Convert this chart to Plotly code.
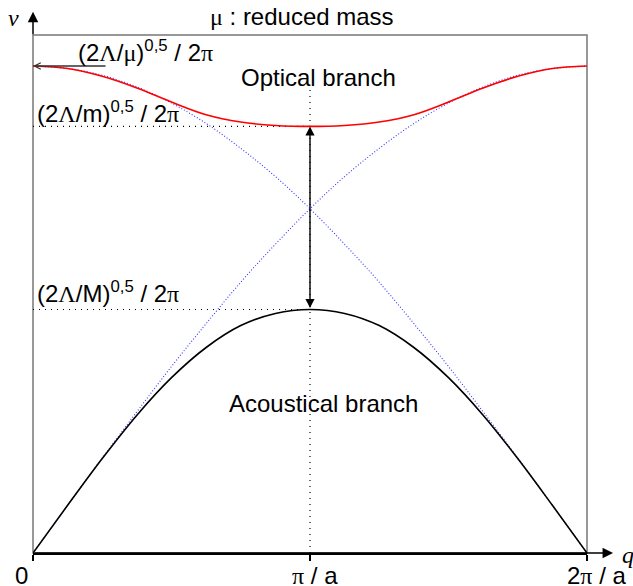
import plotly.graph_objects as go

# wave vector q in units of pi/a
q = [0, 0.125, 0.25, 0.375, 0.5, 0.625, 0.75, 0.875, 1.0,
     1.125, 1.25, 1.375, 1.5, 1.625, 1.75, 1.875, 2.0]

# frequencies (optical frequency at q=0 taken as 1)
optical = [1.000, 0.995, 0.979, 0.955, 0.926, 0.900, 0.885, 0.878, 0.876,
           0.878, 0.885, 0.900, 0.926, 0.955, 0.979, 0.995, 1.000]
acoustical = [0.000, 0.098, 0.194, 0.283, 0.360, 0.422, 0.467, 0.492, 0.500,
              0.492, 0.467, 0.422, 0.360, 0.283, 0.194, 0.098, 0.000]
mono_rising = [0.000, 0.098, 0.195, 0.290, 0.383, 0.471, 0.556, 0.634, 0.707,
               0.773, 0.831, 0.882, 0.924, 0.957, 0.981, 0.995, 1.000]
mono_falling = [1.000, 0.995, 0.981, 0.957, 0.924, 0.882, 0.831, 0.773, 0.707,
                0.634, 0.556, 0.471, 0.383, 0.290, 0.195, 0.098, 0.000]

tick_vals = [0, 1, 2]
SERIF = "Liberation Serif"


def greek(ch):
    return f"<span style='font-family:{SERIF}'>{ch}</span>"


tick_text = ["0", f"{greek('π')} / a", f"2{greek('π')} / a"]
tick_shift = [-12, 5, 9]

nu_mu = optical[0]
nu_m = optical[8]
nu_M = acoustical[8]

fig = go.Figure()

dotted_blue = dict(color="rgba(30,30,255,0.9)", width=1.1, dash="1px,2px")
fig.add_trace(go.Scatter(x=q, y=mono_rising, mode="lines", line=dotted_blue,
                         line_shape="spline"))
fig.add_trace(go.Scatter(x=q, y=mono_falling, mode="lines", line=dotted_blue,
                         line_shape="spline"))

guide = dict(color="black", width=1.2, dash="1px,5px")
fig.add_trace(go.Scatter(x=[0, 1], y=[nu_m, nu_m], mode="lines", line=guide))
fig.add_trace(go.Scatter(x=[0, 1], y=[nu_M, nu_M], mode="lines", line=guide))
fig.add_trace(go.Scatter(x=[1, 1], y=[0, 0.955], mode="lines", line=guide))

fig.add_trace(go.Scatter(x=q, y=optical, mode="lines", line_shape="spline",
                         line=dict(color="red", width=1.6)))
fig.add_trace(go.Scatter(x=q, y=acoustical, mode="lines", line_shape="spline",
                         line=dict(color="black", width=1.6)))

font = dict(family="Liberation Sans", size=24, color="black")
serif_font = dict(family=SERIF, size=24, color="black")

# double arrow between branches at the zone edge
fig.add_annotation(x=1, y=nu_m, ax=1, ay=nu_M, xref="x", yref="y", axref="x", ayref="y",
                   text="", showarrow=True, arrowhead=2, startarrowhead=2,
                   arrowside="end+start", arrowsize=1.3, startarrowsize=1.3,
                   arrowwidth=1.4, arrowcolor="black")
# arrow to optical frequency at q=0
fig.add_annotation(x=0, y=nu_mu, ax=74, ay=0, xref="x", yref="y",
                   text="", showarrow=True, arrowhead=5, arrowsize=0.9,
                   arrowwidth=1.4, arrowcolor="#333")
# axis arrows
fig.add_annotation(x=1.047, y=0, ax=-580, ay=0, xref="paper", yref="paper",
                   text="", showarrow=True, arrowhead=2, arrowsize=1.4,
                   arrowwidth=1.5, arrowcolor="black")
fig.add_annotation(x=0, y=1.045, ax=0, ay=24, xref="paper", yref="paper",
                   text="", showarrow=True, arrowhead=2, arrowsize=1.4,
                   arrowwidth=1.5, arrowcolor="black")

labels = [
    (0.155, 1.030, f"(2{greek('Λ')}/{greek('μ')})<sup>0,5</sup> / 2{greek('π')}"),
    (0.008, 0.906, f"(2{greek('Λ')}/m)<sup>0,5</sup> / 2{greek('π')}"),
    (0.006, 0.535, f"(2{greek('Λ')}/M)<sup>0,5</sup> / 2{greek('π')}"),
]
for x, y, t in labels:
    fig.add_annotation(x=x, y=y, xref="x", yref="y", text=t, showarrow=False,
                       xanchor="left", yanchor="middle", font=font)

fig.add_annotation(x=1.03, y=0.977, xref="x", yref="y", text="Optical branch",
                   showarrow=False, font=font)
fig.add_annotation(x=1.05, y=0.308, xref="x", yref="y", text="Acoustical branch",
                   showarrow=False, font=font)
fig.add_annotation(x=0.486, y=1.035, xref="paper", yref="paper",
                   xanchor="center", yanchor="middle",
                   text=f"{greek('μ')} : reduced mass", showarrow=False, font=font)
fig.add_annotation(x=-0.036, y=1.033, xref="paper", yref="paper",
                   xanchor="center", yanchor="middle",
                   text="<i>ν</i>", showarrow=False, font=serif_font)
fig.add_annotation(x=1.074, y=-0.004, xref="paper", yref="paper",
                   xanchor="center", yanchor="middle",
                   text="<i>q</i>", showarrow=False, font=serif_font)

for v, t, s in zip(tick_vals, tick_text, tick_shift):
    fig.add_annotation(x=v, y=0, xref="x", yref="paper", xanchor="center",
                       yanchor="middle", yshift=-22, xshift=s,
                       text=t, showarrow=False, font=font)

fig.add_shape(type="rect", xref="paper", yref="paper", x0=0, y0=0, x1=1, y1=1,
              line=dict(color="#777", width=1.5), layer="below")

fig.update_xaxes(range=[0, 2], showgrid=False, zeroline=False, showline=True,
                 linecolor="black", linewidth=1.5, ticks="outside", ticklen=6,
                 tickcolor="black", tickwidth=1.5, tickvals=tick_vals,
                 showticklabels=False)
fig.update_yaxes(range=[0, 1.0637], showgrid=False, zeroline=False,
                 showline=False, showticklabels=False)
fig.update_layout(width=633, height=586, margin=dict(l=33, r=46, t=35, b=33),
                  plot_bgcolor="white", paper_bgcolor="white", showlegend=False)

fig.write_html("out.html", config={"displayModeBar": False},
               post_script="document.body.style.margin='0';")
